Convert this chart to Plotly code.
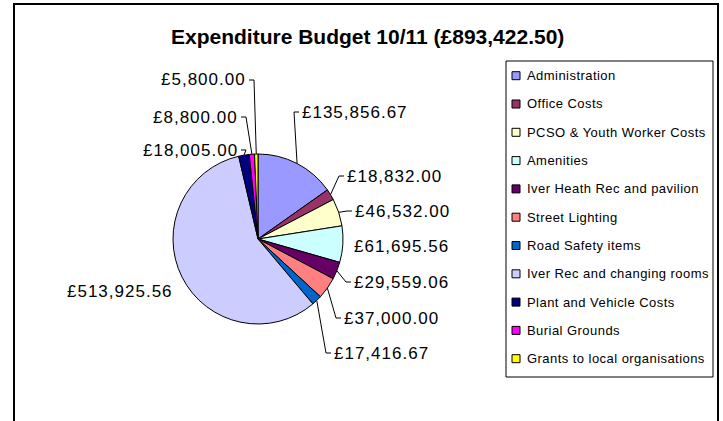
import math
import plotly.graph_objects as go

# ---- data ----
categories = [
    "Administration", "Office Costs", "PCSO & Youth Worker Costs", "Amenities",
    "Iver Heath Rec and pavilion", "Street Lighting", "Road Safety items",
    "Iver Rec and changing rooms", "Plant and Vehicle Costs", "Burial Grounds",
    "Grants to local organisations",
]
values = [135856.67, 18832.00, 46532.00, 61695.56, 29559.06, 37000.00,
          17416.67, 513925.56, 18005.00, 8800.00, 5800.00]
title_text = "Expenditure Budget 10/11 (£893,422.50)"

# ---- style / layout ----
colors = ["#9999FF", "#993366", "#FFFFCC", "#CCFFFF", "#660066", "#FF8080",
          "#0066CC", "#CCCCFF", "#000080", "#FF00FF", "#FFFF00"]
W, H = 723, 421
CX, CY, R = 258, 239, 85
FONT = "Liberation Sans, Arial, sans-serif"

# label placement: (anchor, x, y, leader)
label_pos = [
    ("left", 300, 112, True), ("left", 345, 176, True), ("left", 353, 211, True),
    ("left", 352, 247, False), ("left", 352, 282, True), ("left", 342, 318, True),
    ("left", 332, 353, True), ("right", 175, 291, False), ("right", 240, 150, True),
    ("right", 240, 117, True), ("right", 248, 80, True),
]

def px(x):
    return x / W

def py(y):
    return 1 - y / H

def spaced(t, sp):
    return '<span style="letter-spacing:{}px">{}</span>'.format(sp, t)

fig = go.Figure()
fig.add_trace(go.Pie(
    labels=categories, values=values, sort=False, direction="clockwise",
    rotation=0, marker=dict(colors=colors, line=dict(color="black", width=1)),
    textinfo="none", hoverinfo="label+value+percent", showlegend=False,
    domain=dict(x=[px(CX - R), px(CX + R)], y=[py(CY + R), py(CY - R)]),
))

shapes = []
annotations = []

# outer frame
shapes.append(dict(type="rect", xref="paper", yref="paper", x0=px(14), x1=px(718),
                   y0=py(440), y1=py(4), line=dict(color="black", width=2)))

# title
annotations.append(dict(text="<b>" + title_text + "</b>", x=px(367), y=py(37),
                        xref="paper", yref="paper", showarrow=False,
                        font=dict(family=FONT, size=21, color="black"),
                        xanchor="center", yanchor="middle"))

# data labels with leader lines
total = sum(values)
cum = 0.0
for i, v in enumerate(values):
    mid = (cum + v / 2) / total * 2 * math.pi
    cum += v
    ax_ = CX + R * math.sin(mid)
    ay_ = CY - R * math.cos(mid)
    anchor, tx, ty, leader = label_pos[i]
    txt = "£{:,.2f}".format(v)
    annotations.append(dict(text=spaced(txt, 1), x=px(tx), y=py(ty), xref="paper", yref="paper",
                            showarrow=False, xanchor=anchor, yanchor="middle",
                            font=dict(family=FONT, size=17, color="black")))
    if leader:
        edge = tx - 1 if anchor == "left" else tx + 1
        elbow = edge - 5 if anchor == "left" else edge + 5
        path = "M {} {} L {} {} L {} {}".format(px(ax_), py(ay_), px(elbow), py(ty), px(edge), py(ty))
        shapes.append(dict(type="path", xref="paper", yref="paper", path=path,
                           line=dict(color="black", width=1)))

# legend
shapes.append(dict(type="rect", xref="paper", yref="paper", x0=px(506), x1=px(713),
                   y0=py(377), y1=py(61), line=dict(color="black", width=1)))
LY0, LSTEP = 75.7, 28.3
for i, name in enumerate(categories):
    yc = LY0 + i * LSTEP
    shapes.append(dict(type="rect", xref="paper", yref="paper", x0=px(512), x1=px(520),
                       y0=py(yc + 4), y1=py(yc - 4), fillcolor=colors[i],
                       line=dict(color="black", width=1)))
    annotations.append(dict(text=spaced(name, 0.45), x=px(525), y=py(yc), xref="paper", yref="paper",
                            showarrow=False, xanchor="left", yanchor="middle",
                            font=dict(family=FONT, size=13, color="black")))

fig.update_layout(
    width=W, height=H, margin=dict(l=0, r=0, t=0, b=0),
    paper_bgcolor="white", plot_bgcolor="white",
    shapes=shapes, annotations=annotations, showlegend=False,
)
fig.write_html("out.html", config={"displayModeBar": False},
               post_script="document.body.style.margin='0';")
